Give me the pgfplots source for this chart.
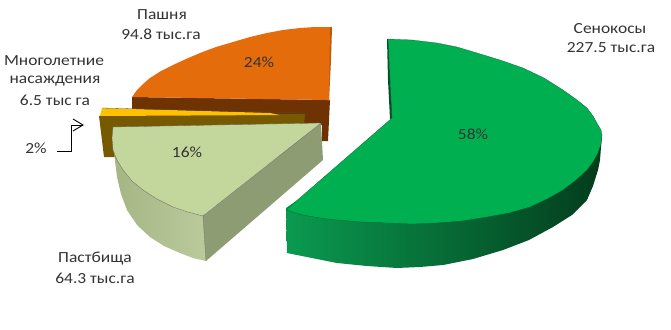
\documentclass[border=0pt]{standalone}
\usepackage{pgfplots}
\pgfplotsset{compat=1.18}
\usepackage{fontspec}
\setmainfont{Carlito}
\definecolor{gtop}{HTML}{00B050}
\definecolor{gl}{HTML}{0A9A4F}
\definecolor{gm}{HTML}{08733A}
\definecolor{gr}{HTML}{033C1C}
\definecolor{gedge}{HTML}{04502A}
\definecolor{otop}{HTML}{E46C0A}
\definecolor{oside}{HTML}{6F3303}
\definecolor{oface}{HTML}{B85A10}
\definecolor{ytop}{HTML}{FFC000}
\definecolor{yside}{HTML}{775A00}
\definecolor{ptop}{HTML}{C3D69B}
\definecolor{pl}{HTML}{A5B584}
\definecolor{pr}{HTML}{BACA9A}
\definecolor{pface}{HTML}{8E9C74}
\definecolor{txt}{HTML}{333333}
\tikzset{lab/.style={font=\fontsize{15.5}{18}\selectfont,text=txt,inner sep=0pt,xscale=1.13,transform shape}}
\begin{document}
\begin{tikzpicture}
\path[use as bounding box] (0,0) rectangle (671bp,330bp);
\begin{axis}[width=671bp,height=330bp,scale only axis,xmin=0,xmax=671,ymin=0,ymax=330,y dir=reverse,hide axis,clip=false,no markers]
% orange slice
\addplot[draw=none,fill=oside] coordinates {(132,97)(330,100)(328,141)(322,141)(322,125)(132,125)};
\addplot[draw=none,fill=oface] coordinates {(329,27)(332,27)(331,60)(329,101)(327,100)};
\addplot[draw=none,fill=otop] coordinates {(330,27)(315,27)(300,28)(283,30)(267,33)(250,37)(233,42)(216,47)(200,53)(186,59)(173,65)(161,71)(150,78)(143,84)(137,90)(132,97)(329,100)};
% yellow slice
\addplot[draw=none,fill=yside] coordinates {(99,116)(305,114)(304,124)(300,157)(104,157)};
\addplot[draw=none,fill=ytop] coordinates {(102,108)(270,113)(280,115)(100,116)};
\addplot[color=black!70,line width=0.3pt] coordinates {(102,108)(305,113)(305,124)};
% pale green slice
\addplot[draw=none,shade,left color=pl,right color=pr] coordinates {(113,130)(114,153)(117,177)(121,194)(127,210)(137,225)(150,237)(164,246)(180,253)(193,258)(206,261)(205,215)};
\addplot[draw=none,fill=pface] coordinates {(203,216)(321,123)(323,160)(206,261)};
\addplot[draw=black!60,line width=0.3pt,fill=ptop] coordinates {(113,127)(112,138)(113,150)(117,160)(123,170)(132,181)(143,190)(157,199)(173,207)(188,212)(203,216)(321,123)(113,127)};
\addplot[color=black!55,line width=0.3pt] coordinates {(203,216)(206,261)};
% green slice
\addplot[draw=none,shade,left color=gl,middle color=gm,right color=gr] coordinates {(602,135)(601,147)(600,160)(598,170)(593,186)(587,200)(572,215)(553,227)(529,240)(503,250)(473,259)(443,265)(420,267)(397,268)(367,266)(337,263)(312,258)(287,253)(286,208)(400,130)};
\addplot[draw=none,fill=gedge] coordinates {(387,39)(388,80)(390,119)(394,118)(390,80)(389,39)};
\addplot[draw=gedge,line width=0.2pt,fill=gtop] coordinates {(388,39)(412,40)(437,43)(457,47)(477,53)(500,60)(523,68)(544,78)(563,90)(577,100)(587,108)(593,116)(598,125)(601,130)(602,135)(601,144)(598,153)(593,162)(587,170)(576,180)(563,190)(547,199)(530,207)(509,213)(487,217)(462,221)(437,223)(412,224)(387,223)(362,222)(337,220)(320,218)(303,215)(286,210)(392,118)(388,39)};
% arrow
\addplot[color=black,line width=0.9pt] coordinates {(57,151)(71,151)(71,125)(83,125)};
\addplot[color=black,line width=0.9pt] coordinates {(73,119)(83,125)(73,131)};
% labels
\node[lab] at (axis cs:610,29) {Сенокосы};
\node[lab] at (axis cs:611,48) {227.5 тыс.га};
\node[lab] at (axis cs:162,15) {Пашня};
\node[lab] at (axis cs:161,34) {94.8 тыс.га};
\node[lab] at (axis cs:54,61) {Многолетние};
\node[lab] at (axis cs:55,81) {насаждения};
\node[lab] at (axis cs:55,100) {6.5 тыс га};
\node[lab] at (axis cs:36,148) {2\%};
\node[lab] at (axis cs:95,259) {Пастбища};
\node[lab] at (axis cs:95,278) {64.3 тыс.га};
\node[lab] at (axis cs:259,62) {24\%};
\node[lab] at (axis cs:187,152) {16\%};
\node[lab] at (axis cs:473,134) {58\%};
\end{axis}
\end{tikzpicture}
\end{document}
